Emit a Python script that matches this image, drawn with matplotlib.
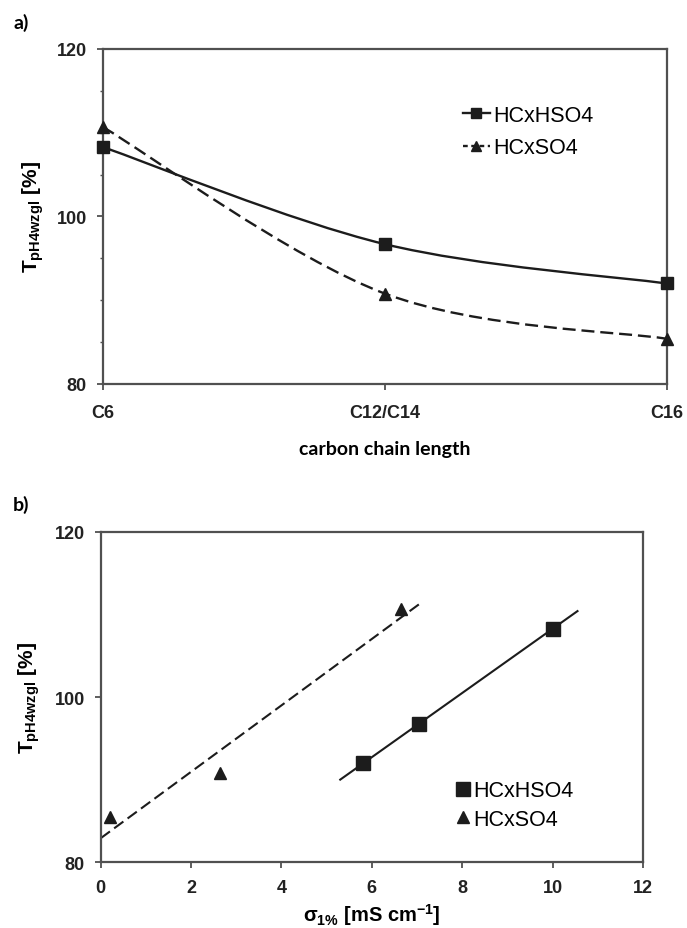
import numpy as np
import matplotlib.pyplot as plt
from matplotlib.path import Path
from matplotlib.patches import PathPatch
from matplotlib.lines import Line2D

plt.rcParams['font.family'] = ['Liberation Sans', 'DejaVu Sans']
plt.rcParams['font.weight'] = 'bold'
plt.rcParams['axes.labelweight'] = 'bold'
plt.rcParams['mathtext.fontset'] = 'custom'
plt.rcParams['mathtext.rm'] = 'Liberation Sans:bold'
plt.rcParams['mathtext.bf'] = 'Liberation Sans:bold'
plt.rcParams['mathtext.it'] = 'Liberation Sans:bold'
plt.rcParams['mathtext.default'] = 'bf'

# Daten (Reihenfolge jeweils C6, C12/C14, C16)
kettenlaenge = ['C6', 'C12/C14', 'C16']
t_hso4 = [108.3, 96.7, 92.0]
t_so4 = [110.7, 90.8, 85.4]

sigma_hso4 = [10.0, 7.05, 5.8]
sigma_so4 = [6.65, 2.65, 0.2]
# Bereich der Trendlinien (x)
trend_hso4 = [5.3, 10.55]
trend_so4 = [0.0, 7.1]

spine_col = '#505050'
line_col = '#1c1c1c'
tick_col = '#222222'
strich = (0, (5.5, 2.5))
leg_font = {'family': 'Liberation Sans', 'weight': 'normal', 'size': 15.5}


def glatte_kurve(xs, ys):
    # Excel-aehnliche geglaettete Linie (Catmull-Rom als Bezier)
    p = np.column_stack([xs, ys]).astype(float)
    p_ext = np.vstack([p[0], p, p[-1]])
    verts = [p[0]]
    codes = [Path.MOVETO]
    for i in range(1, len(p_ext) - 2):
        c1 = p_ext[i] + (p_ext[i + 1] - p_ext[i - 1]) / 6
        c2 = p_ext[i + 1] - (p_ext[i + 2] - p_ext[i]) / 6
        verts += [c1, c2, p_ext[i + 1]]
        codes += [Path.CURVE4] * 3
    return Path(verts, codes)


def achse_stil(ax):
    for s in ax.spines.values():
        s.set_color(spine_col)
        s.set_linewidth(1.6)
    ax.tick_params(axis='both', which='major', direction='out', length=4.5,
                   width=1.3, color=spine_col, labelsize=13, labelcolor=tick_col)


fig = plt.figure(figsize=(6.87, 9.29), dpi=100)

# ---------- a) ----------
ax1 = fig.add_axes([0.1495, 0.5856, 0.8209, 0.3606])
x_pos = np.arange(len(kettenlaenge))
ax1.add_patch(PathPatch(glatte_kurve(x_pos, t_hso4), fill=False, color=line_col,
                        lw=1.7, ls='-', zorder=2))
ax1.add_patch(PathPatch(glatte_kurve(x_pos, t_so4), fill=False, color=line_col,
                        lw=1.7, ls=strich, zorder=2))
ax1.plot(x_pos, t_hso4, 's', color=line_col, ms=9, ls='none', clip_on=False, zorder=3)
ax1.plot(x_pos, t_so4, '^', color=line_col, ms=9, ls='none', clip_on=False, zorder=3)
ax1.set_xlim(0, 2)
ax1.set_ylim(80, 120)
ax1.set_xticks(x_pos)
ax1.set_xticklabels(kettenlaenge)
ax1.set_yticks([80, 100, 120])
ax1.set_yticks(np.arange(85, 120, 5), minor=True)
ax1.tick_params(axis='y', which='minor', direction='out', length=2.5, width=1.0, color=spine_col)
achse_stil(ax1)
ax1.tick_params(axis='x', pad=10)
ax1.tick_params(axis='y', pad=7)
ax1.set_ylabel(r'T$_{pH4wzgl}$ [%]', fontsize=15, fontweight='bold', va='center')
ax1.yaxis.set_label_coords(-0.123, 0.5)
ax1.set_xlabel('carbon chain length', fontfamily='Lato', fontweight='bold', fontsize=14,
               va='center')
ax1.xaxis.set_label_coords(0.5, -0.194)

handles_a = [Line2D([], [], color=line_col, ls='-', lw=1.7, marker='s', ms=7.5),
             Line2D([], [], color=line_col, ls=(0, (2, 1.5)), lw=1.7, marker='^', ms=7.5)]
fig.legend(handles_a, ['HCxHSO4', 'HCxSO4'], loc='center left',
           bbox_to_anchor=(463 / 687, 1 - 132.5 / 929), frameon=False, prop=leg_font,
           borderpad=0, borderaxespad=0, handlelength=1.25, handletextpad=0.15,
           labelspacing=0.55)
fig.text(13 / 687, 1 - 23 / 929, 'a)', fontfamily='Lato', fontweight='bold', fontsize=14,
         va='center', ha='left')

# ---------- b) ----------
ax2 = fig.add_axes([0.1466, 0.0710, 0.7894, 0.3553])
k_h, d_h = np.polyfit(sigma_hso4, t_hso4, 1)
k_s, d_s = np.polyfit(sigma_so4, t_so4, 1)
xh = np.array(trend_hso4)
xs = np.array(trend_so4)
ax2.plot(xh, k_h * xh + d_h, color=line_col, lw=1.5, ls='-', zorder=2)
ax2.plot(xs, k_s * xs + d_s, color=line_col, lw=1.5, ls=strich, zorder=2)
ax2.plot(sigma_hso4, t_hso4, 's', color=line_col, ms=10, ls='none', zorder=3,
         label='HCxHSO4')
ax2.plot(sigma_so4, t_so4, '^', color=line_col, ms=9, ls='none', zorder=3,
         label='HCxSO4')
ax2.set_xlim(0, 12)
ax2.set_ylim(80, 120)
ax2.set_xticks(np.arange(0, 13, 2))
ax2.set_yticks([80, 100, 120])
achse_stil(ax2)
ax2.tick_params(axis='x', pad=8)
ax2.tick_params(axis='y', pad=7)
ax2.set_ylabel(r'T$_{pH4wzgl}$ [%]', fontsize=15, fontweight='bold', va='center')
ax2.yaxis.set_label_coords(-0.131, 0.5)
ax2.set_xlabel(r'$\sigma_{1\%}$ [mS cm$^{-1}$]', fontsize=14.5, fontweight='bold',
               va='center')
ax2.xaxis.set_label_coords(0.5, -0.158)
fig.legend(*ax2.get_legend_handles_labels(), loc='center left',
           bbox_to_anchor=(457 / 687, 1 - 806 / 929), frameon=False, prop=leg_font,
           borderpad=0, borderaxespad=0, handlelength=0.6, handletextpad=0.15,
           labelspacing=0.34)
fig.text(13 / 687, 1 - 505 / 929, 'b)', fontfamily='Lato', fontweight='bold', fontsize=14,
         va='center', ha='left')

plt.savefig('out.png', dpi=100)
